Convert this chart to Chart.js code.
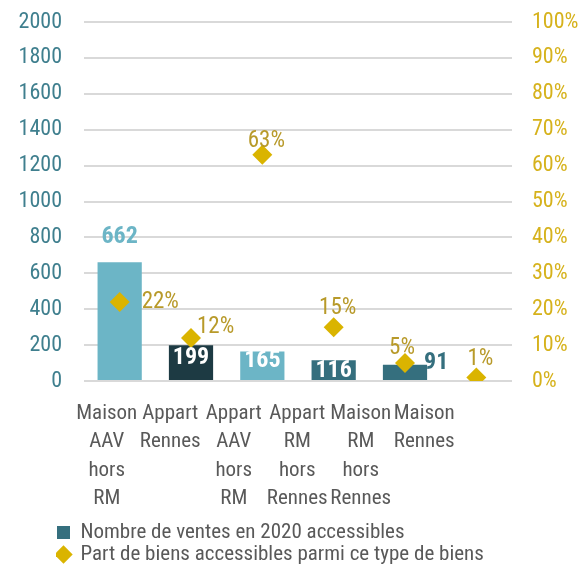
<!DOCTYPE html>
<html>
<head>
<meta charset="utf-8">
<script src="https://cdn.jsdelivr.net/npm/chart.js@4.4.1/dist/chart.umd.min.js"></script>
<style>
  html, body { margin: 0; padding: 0; background: #fff; }
  #wrap { width: 585px; height: 566px; }
</style>
</head>
<body>
<div id="wrap"><canvas id="chart" width="585" height="566"></canvas></div>
<script>
const categories = [
  ['Maison', 'AAV', 'hors', 'RM'],
  ['Appart', 'Rennes'],
  ['Appart', 'AAV', 'hors', 'RM'],
  ['Appart', 'RM', 'hors', 'Rennes'],
  ['Maison', 'RM', 'hors', 'Rennes'],
  ['Maison', 'Rennes']
];
const ventes = [662, 199, 165, 116, 91, 0];
const partAccessible = [22, 12, 63, 15, 5, 1];
const seriesNames = ['Nombre de ventes en 2020 accessibles', 'Part de biens accessibles parmi ce type de biens'];

const FONT = "'Roboto Condensed', 'Liberation Sans Narrow', 'DejaVu Sans Condensed', Roboto, sans-serif";
const LIGHT = '#6cb5c6';
const DARK = '#1d3a43';
const MID = '#356f7e';
const GOLD = '#dab400';
const GOLD_TEXT = '#b89a2a';
const GREY = '#595959';

const barColors = [LIGHT, DARK, LIGHT, MID, MID, MID];
// where each bar value goes: [mode, dx, dy]
const barLabelPos = [['above', 0, -25], ['inside', 0, 13], ['inside', 0, 10], ['inside', 0, 11], ['right', -3, -2], ['none', 0, 0]];
const barLabelColor = [LIGHT, '#fff', '#fff', '#fff', MID, MID];
// offsets for percentage labels [dx, dy, align]
const pctLabelPos = [[22, 0, 'left'], [6, -11, 'left'], [4, -14, 'center'], [4, -19, 'center'], [-3, -15, 'center'], [4, -18, 'center']];

const labelPlugin = {
  id: 'labels',
  afterLayout(chart) {
    // excel squeezes the category labels a bit to the left
    const x2 = chart.scales.x2;
    x2.left = 75;
    x2.right = 456;
    x2.width = x2.right - x2.left;
    x2.configure();
    // legend block starts under the axis, not at the edge
    const lg = chart.legend;
    lg.left += 56;
    lg.right += 56;
    lg.top += 9;
    lg.bottom += 9;
  },
  afterDatasetsDraw(chart) {
    const ctx = chart.ctx;
    ctx.save();
    ctx.textBaseline = 'middle';
    ctx.font = 'bold 24px ' + FONT;
    chart.getDatasetMeta(0).data.forEach((bar, i) => {
      const p = barLabelPos[i];
      if (p[0] === 'none') return;
      ctx.fillStyle = barLabelColor[i];
      ctx.textAlign = 'center';
      let x = bar.x + p[1];
      if (p[0] === 'right') { x = bar.x + bar.width / 2 + p[1]; ctx.textAlign = 'left'; }
      ctx.fillText(String(ventes[i]), x, bar.y + p[2]);
    });
    ctx.font = '23px ' + FONT;
    ctx.fillStyle = GOLD_TEXT;
    chart.getDatasetMeta(1).data.forEach((pt, i) => {
      const p = pctLabelPos[i];
      ctx.textAlign = p[2];
      ctx.fillText(partAccessible[i] + '%', pt.x + p[0], pt.y + p[1]);
    });
    ctx.restore();
  }
};

new Chart(document.getElementById('chart'), {
  data: {
    labels: categories,
    datasets: [{
      type: 'bar',
      label: seriesNames[0],
      data: ventes,
      backgroundColor: barColors,
      yAxisID: 'y',
      categoryPercentage: 1,
      barPercentage: 0.62,
      order: 2
    }, {
      type: 'line',
      label: seriesNames[1],
      data: partAccessible,
      yAxisID: 'y1',
      showLine: false,
      pointStyle: 'rectRot',
      pointRadius: 10,
      pointBorderWidth: 0,
      pointBackgroundColor: GOLD,
      pointBorderColor: GOLD,
      borderColor: GOLD,
      backgroundColor: GOLD,
      order: 1
    }]
  },
  options: {
    responsive: false,
    animation: false,
    layout: { padding: { top: 22, left: 0, right: 0, bottom: 0 } },
    plugins: {
      tooltip: { enabled: false },
      legend: {
        position: 'bottom',
        align: 'start',
        labels: {
          usePointStyle: true,
          generateLabels(chart) {
            return chart.data.datasets.map((ds, i) => ({
              text: ds.label,
              fillStyle: i === 0 ? MID : GOLD,
              strokeStyle: i === 0 ? MID : GOLD,
              lineWidth: 0,
              pointStyle: i === 0 ? 'rect' : 'rectRot',
              fontColor: GREY,
              datasetIndex: i
            }));
          },
          boxWidth: 13,
          boxHeight: 13,
          padding: 1,
          color: GREY,
          font: { family: FONT, size: 21 }
        }
      }
    },
    scales: {
      x: {
        display: false,
        grid: { display: false }
      },
      x2: {
        type: 'category',
        position: 'bottom',
        offset: true,
        grid: { display: false },
        border: { display: false },
        ticks: {
          color: GREY,
          maxRotation: 0,
          autoSkip: false,
          padding: 10,
          font: { family: FONT, size: 21, lineHeight: 1.36 }
        },
        afterFit(scale) { scale.height = 131; }
      },
      y: {
        position: 'left',
        min: 0,
        max: 2000,
        ticks: {
          stepSize: 200,
          color: '#3f7f8e',
          padding: 22,
          font: { family: FONT, size: 22 },
          callback: v => String(v)
        },
        grid: { color: '#d9d9d9', lineWidth: 2, drawTicks: false },
        border: { display: false },
        afterFit(scale) { scale.width = 84; scale.paddingTop = 0; scale.paddingBottom = 0; }
      },
      y1: {
        position: 'right',
        min: 0,
        max: 100,
        ticks: {
          stepSize: 10,
          color: '#d6b21c',
          padding: 20,
          font: { family: FONT, size: 22 },
          callback: v => v + '%'
        },
        grid: { display: false, drawTicks: false },
        border: { display: false },
        afterFit(scale) { scale.width = 73; scale.paddingTop = 0; scale.paddingBottom = 0; }
      }
    }
  },
  plugins: [labelPlugin]
});
</script>
</body>
</html>
